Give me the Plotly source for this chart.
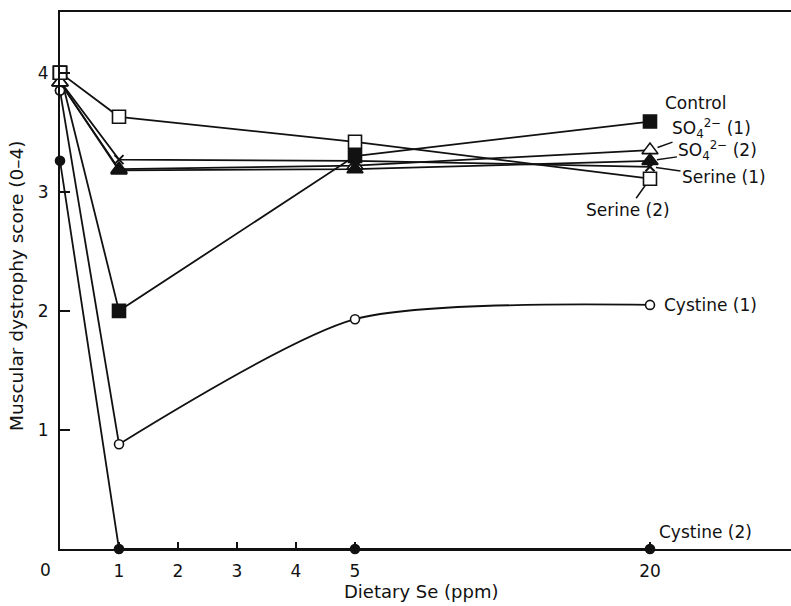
import plotly.graph_objects as go

# ---- data ----
se_ppm = [0, 1, 5, 20]
control = [4.00, 2.00, 3.30, 3.59]
so4_1 = [3.92, 3.19, 3.22, 3.35]
so4_2 = [3.92, 3.18, 3.19, 3.26]
serine_1 = [3.93, 3.27, 3.26, 3.21]
serine_2 = [4.00, 3.63, 3.42, 3.11]
cystine_1 = [3.85, 0.88, 1.93, 2.05]
cystine_2 = [3.26, 0.00, 0.00, 0.00]
x_tick_labels = ["1", "2", "3", "4", "5", "20"]
x_tick_values = [1, 2, 3, 4, 5, 20]
y_tick_values = [1, 2, 3, 4]

FONT = "DejaVu Sans"
BLACK = "#111111"


def pos(v):
    # broken axis: linear 0-5, compressed 5-20
    return v if v <= 5 else 5 + (v - 5) / 3.0


def P(vals):
    return [pos(v) for v in vals]


xp = P(se_ppm)

fig = go.Figure()

line_style = dict(color=BLACK, width=1.8)

# lines first
for ys in [control, so4_1, so4_2, serine_1, serine_2, cystine_2]:
    fig.add_trace(go.Scatter(x=xp, y=ys, mode="lines", line=line_style,
                             hoverinfo="skip", showlegend=False, cliponaxis=False))
# cystine (1): straight to 1 ppm, smooth afterwards
fig.add_trace(go.Scatter(x=xp[:2], y=cystine_1[:2], mode="lines", line=line_style,
                         showlegend=False, cliponaxis=False))
fig.add_trace(go.Scatter(x=xp[1:], y=cystine_1[1:], mode="lines",
                         line=dict(color=BLACK, width=1.8, shape="spline", smoothing=0.7),
                         showlegend=False, cliponaxis=False))


# markers
def add_markers(xs, ys, symbol, size, fill, lw=1.6):
    fig.add_trace(go.Scatter(x=xs, y=ys, mode="markers", showlegend=False, cliponaxis=False,
                             marker=dict(symbol=symbol, size=size, color=fill,
                                         line=dict(color=BLACK, width=lw))))


add_markers(xp, serine_2, "square", 13, "white")
add_markers(xp, so4_1, "triangle-up", 14, "white")
add_markers(xp, serine_1, "x-thin", 9, BLACK, lw=2)
add_markers(xp, so4_2, "triangle-up", 14, BLACK)
add_markers(xp, control, "square", 13, BLACK)
add_markers(xp, cystine_1, "circle", 9, "white")
add_markers(xp, cystine_2, "circle", 9, BLACK)
# at 0 ppm the open symbols lie on top of the cluster
add_markers(xp[:1], cystine_1[:1], "circle", 9, "white")
add_markers(xp[:1], so4_1[:1], "triangle-up", 14, "white")
add_markers(xp[:1], serine_2[:1], "square", 13, "white")

tf = dict(family=FONT, size=17, color=BLACK)
lf = dict(family=FONT, size=17, color=BLACK)

ann = []
x20 = pos(20)
# series labels
ann.append(dict(x=x20, y=control[3], text="Control", showarrow=False,
                xshift=46, yshift=19, font=lf))
ann.append(dict(x=x20, y=so4_1[3], text="SO<sub>4</sub><sup>2−</sup> (1)", showarrow=True,
                ax=62, ay=-22, arrowhead=0, arrowwidth=1.5, arrowcolor=BLACK,
                standoff=8, font=lf))
ann.append(dict(x=x20, y=so4_2[3], text="SO<sub>4</sub><sup>2−</sup> (2)", showarrow=True,
                ax=68, ay=-10, arrowhead=0, arrowwidth=1.5, arrowcolor=BLACK,
                standoff=7, font=lf))
ann.append(dict(x=x20, y=serine_1[3], text="Serine (1)", showarrow=True,
                ax=74, ay=10, arrowhead=0, arrowwidth=1.5, arrowcolor=BLACK,
                standoff=6, font=lf))
ann.append(dict(x=x20, y=serine_2[3], text="Serine (2)", showarrow=True,
                ax=-22, ay=31, arrowhead=0, arrowwidth=1.5, arrowcolor=BLACK,
                standoff=8, font=lf))
ann.append(dict(x=x20, y=cystine_1[3], text="Cystine (1)", showarrow=False,
                xanchor="left", xshift=12, font=lf))
ann.append(dict(x=x20, y=cystine_2[3], text="Cystine (2)", showarrow=False,
                xanchor="left", xshift=7, yshift=17, font=lf))
# origin label
ann.append(dict(x=0, y=0, text="0", showarrow=False, xshift=-15, yshift=-21, font=tf))
# axis titles
ann.append(dict(xref="paper", yref="paper", x=0.494, y=-0.080, text="Dietary Se (ppm)",
                showarrow=False, font=dict(family=FONT, size=18, color=BLACK),
                xanchor="center", yanchor="middle"))
ann.append(dict(xref="paper", yref="paper", x=-0.0588, y=0.49,
                text="Muscular dystrophy score (0–4)", textangle=-90,
                showarrow=False, font=dict(family=FONT, size=18.5, color=BLACK),
                xanchor="center", yanchor="middle"))

fig.update_layout(
    width=791, height=606,
    margin=dict(l=60, r=0, t=12, b=57),
    paper_bgcolor="white", plot_bgcolor="white",
    annotations=ann,
    font=tf,
)
fig.update_xaxes(range=[0, 12.39], showgrid=False, zeroline=False,
                 showline=True, linecolor=BLACK, linewidth=2, mirror=True,
                 ticks="inside", ticklen=7, tickwidth=2, tickcolor=BLACK,
                 tickvals=P(x_tick_values), ticktext=x_tick_labels,
                 ticklabelstandoff=6, tickfont=tf)
fig.update_yaxes(range=[0, 4.51], showgrid=False, zeroline=False,
                 showline=True, linecolor=BLACK, linewidth=2, mirror=False,
                 ticks="inside", ticklen=10, tickwidth=2, tickcolor=BLACK,
                 tickvals=y_tick_values, ticklabelstandoff=6, tickfont=tf)

fig.write_html("out.html", config={"displayModeBar": False},
               post_script="document.body.style.margin='0';document.body.style.overflow='hidden';")
